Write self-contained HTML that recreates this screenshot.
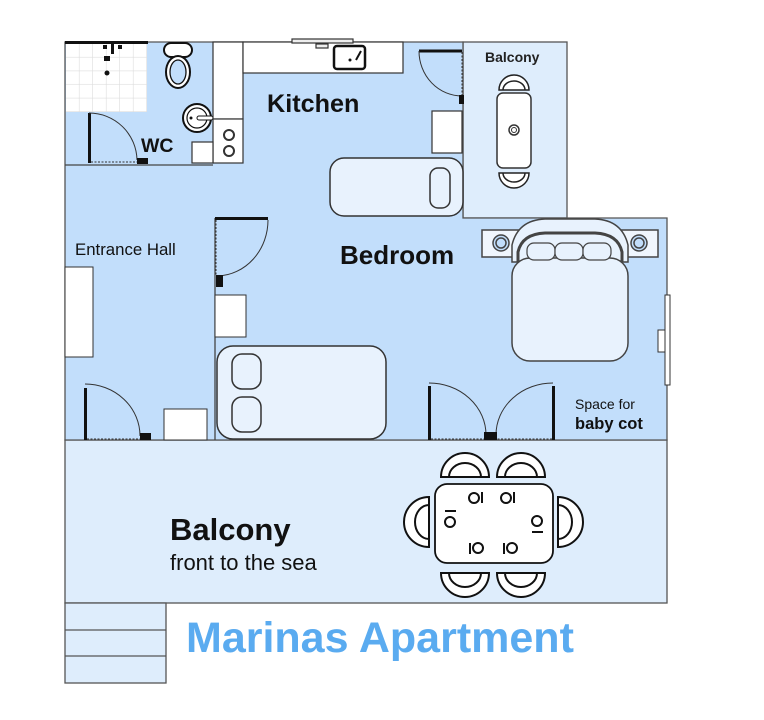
<!DOCTYPE html>
<html><head><meta charset="utf-8"><style>
html,body{margin:0;padding:0;background:#fff;width:764px;height:720px;overflow:hidden}
svg{display:block}
text{font-family:"Liberation Sans",Arial,sans-serif}
</style></head><body>
<svg width="764" height="720" viewBox="0 0 764 720" xmlns="http://www.w3.org/2000/svg">
<defs>
<pattern id="tile" x="66" y="44" width="13.5" height="13.6" patternUnits="userSpaceOnUse">
<rect width="13.5" height="13.6" fill="#fff"/>
<path d="M13.5 0V13.6M0 13.6H13.5" stroke="#ddd" stroke-width="1.2"/>
</pattern>
</defs>
<g stroke="#555" stroke-width="1.3">
<rect x="463" y="42" width="104" height="176" fill="#deedfc"/>
<rect x="65" y="440" width="602" height="163" fill="#deedfc"/>
<rect x="65" y="603" width="101" height="80" fill="#deedfc"/>
<line x1="65" y1="630" x2="166" y2="630"/>
<line x1="65" y1="656" x2="166" y2="656"/>
<path d="M65 42H463V218H667V440H65Z" fill="#c2defb"/>
<line x1="65" y1="165" x2="213" y2="165" stroke="#444"/>
<line x1="215" y1="218" x2="215" y2="440" stroke="#444"/>
</g>
<rect x="66" y="44" width="81" height="68" fill="url(#tile)"/>
<rect x="65" y="41" width="83" height="3" fill="#111"/>
<rect x="111" y="44" width="3" height="10" fill="#111"/>
<rect x="103" y="45" width="4" height="4" fill="#111"/><rect x="118" y="45" width="4" height="4" fill="#111"/>
<rect x="104" y="56" width="6" height="5" fill="#111"/><circle cx="107" cy="73" r="2.5" fill="#111"/>
<g fill="#fff" stroke="#111" stroke-width="2">
<rect x="164" y="43" width="28" height="14" rx="7"/>
<ellipse cx="178" cy="72" rx="12" ry="16"/>
<ellipse cx="178" cy="72" rx="8" ry="12" fill="#c2defb" stroke-width="1.3"/>
<circle cx="197" cy="118" r="14"/>
<circle cx="197" cy="118" r="10" stroke-width="1.2"/>
</g>
<rect x="197" y="116" width="16" height="4" rx="2" fill="#fff" stroke="#111"/>
<circle cx="191" cy="118" r="1.5" fill="#111"/>
<rect x="88" y="113" width="3" height="50" fill="#111"/>
<path d="M89 113A48 48 0 0 1 137 160" fill="none" stroke="#333"/>
<line x1="91" y1="162" x2="137" y2="162" stroke="#333" stroke-dasharray="2,1.5"/>
<rect x="137" y="158" width="11" height="6" fill="#111"/>
<g fill="#fff" stroke="#333" stroke-width="1.2">
<rect x="213" y="42" width="30" height="77"/>
<rect x="213" y="119" width="30" height="44"/>
<rect x="192" y="142" width="21" height="21"/>
<rect x="243" y="42" width="160" height="31"/>
<rect x="292" y="39" width="61" height="4" fill="#eee"/>
<rect x="316" y="44" width="12" height="4" fill="#eee"/>
<circle cx="229" cy="135" r="5" stroke-width="2"/><circle cx="229" cy="151" r="5" stroke-width="2"/>
<rect x="334" y="46" width="31" height="23" rx="3" stroke="#111" stroke-width="2.5"/>
<rect x="432" y="111" width="30" height="42"/>
</g>
<circle cx="350" cy="60" r="1.5" fill="#111"/><line x1="356" y1="60" x2="361" y2="51" stroke="#111" stroke-width="2"/>
<line x1="419" y1="51" x2="462" y2="51" stroke="#111" stroke-width="3"/>
<path d="M419 51A43 45 0 0 0 462 96" fill="none" stroke="#333"/>
<line x1="462" y1="52" x2="462" y2="96" stroke="#333" stroke-dasharray="2,1.5"/>
<rect x="459" y="95" width="5" height="9" fill="#111"/>
<rect x="330" y="158" width="133" height="58" rx="14" fill="#e8f2fd" stroke="#333" stroke-width="1.5"/>
<rect x="430" y="168" width="20" height="40" rx="8" fill="#e8f2fd" stroke="#333" stroke-width="1.5"/>
<rect x="497" y="93" width="34" height="75" rx="6" fill="#fff" stroke="#333" stroke-width="1.5"/>
<circle cx="514" cy="130" r="5" fill="#fff" stroke="#333" stroke-width="1.5"/><circle cx="514" cy="130" r="2.5" fill="none" stroke="#333"/>
<g fill="#fff" stroke="#222" stroke-width="1.5">
<path d="M499 90A15 15 0 0 1 529 90Z"/><path d="M503 90A11 9 0 0 1 525 90" fill="none"/>
<path d="M499 173A15 15 0 0 0 529 173Z"/><path d="M503 173A11 9 0 0 0 525 173" fill="none"/>
</g>
<rect x="215" y="217" width="53" height="3" fill="#111"/>
<path d="M268 220A52 56 0 0 1 218 276" fill="none" stroke="#333"/>
<line x1="216" y1="220" x2="216" y2="276" stroke="#333" stroke-dasharray="2,1.5"/>
<rect x="216" y="275" width="7" height="12" fill="#111"/>
<rect x="215" y="295" width="31" height="42" fill="#fff" stroke="#333"/>
<rect x="217" y="346" width="169" height="93" rx="16" fill="#e8f2fd" stroke="#333" stroke-width="1.5"/>
<rect x="232" y="354" width="29" height="35" rx="10" fill="#e8f2fd" stroke="#333" stroke-width="1.5"/>
<rect x="232" y="397" width="29" height="35" rx="10" fill="#e8f2fd" stroke="#333" stroke-width="1.5"/>
<g stroke="#444" stroke-width="1.5">
<rect x="482" y="230" width="38" height="27" fill="#f0f6fd"/>
<rect x="620" y="230" width="38" height="27" fill="#f0f6fd"/>
<path d="M512 262V245Q518 220 545 219H595Q622 220 628 245V262Z" fill="#e8f2fd"/>
<path d="M518 262V252Q522 234 545 233H595Q618 234 622 252V262" fill="none" stroke-width="3"/>
<rect x="512" y="258" width="116" height="103" rx="18" fill="#e8f2fd"/>
<rect x="527" y="243" width="28" height="17" rx="7" fill="#e8f2fd" stroke-width="1.2"/>
<rect x="555" y="243" width="28" height="17" rx="7" fill="#e8f2fd" stroke-width="1.2"/>
<rect x="583" y="243" width="28" height="17" rx="7" fill="#e8f2fd" stroke-width="1.2"/>
<circle cx="501" cy="243" r="8" fill="#c2defb"/><circle cx="501" cy="243" r="5" fill="none"/>
<circle cx="639" cy="243" r="8" fill="#c2defb"/><circle cx="639" cy="243" r="5" fill="none"/>
</g>
<rect x="665" y="295" width="5" height="90" fill="#fff" stroke="#333"/>
<rect x="658" y="330" width="7" height="22" fill="#fff" stroke="#333"/>
<rect x="428" y="386" width="3" height="54" fill="#111"/>
<rect x="552" y="386" width="3" height="54" fill="#111"/>
<path d="M429 383A57 52 0 0 1 486 435" fill="none" stroke="#333"/>
<path d="M553 383A57 52 0 0 0 496 435" fill="none" stroke="#333"/>
<line x1="431" y1="439" x2="552" y2="439" stroke="#333" stroke-dasharray="2,1.5"/>
<rect x="484" y="432" width="13" height="8" fill="#111"/>
<rect x="65" y="267" width="28" height="90" fill="#fff" stroke="#333"/>
<rect x="84" y="388" width="3" height="52" fill="#111"/>
<path d="M85 384A55 52 0 0 1 140 436" fill="none" stroke="#333"/>
<line x1="87" y1="439" x2="140" y2="439" stroke="#333" stroke-dasharray="2,1.5"/>
<rect x="140" y="433" width="11" height="7" fill="#111"/>
<rect x="164" y="409" width="43" height="31" fill="#fff" stroke="#333"/>
<rect x="435" y="484" width="118" height="79" rx="12" fill="#fff" stroke="#111" stroke-width="1.8"/>
<g fill="#fff" stroke="#111" stroke-width="2">
<path d="M441 477A24 24 0 0 1 489 477Z"/><path d="M449 477A16 14 0 0 1 481 477" fill="none"/>
<path d="M497 477A24 24 0 0 1 545 477Z"/><path d="M505 477A16 14 0 0 1 537 477" fill="none"/>
<path d="M441 573A24 24 0 0 0 489 573Z"/><path d="M449 573A16 14 0 0 0 481 573" fill="none"/>
<path d="M497 573A24 24 0 0 0 545 573Z"/><path d="M505 573A16 14 0 0 0 537 573" fill="none"/>
<path d="M429 497A25 25 0 0 0 429 547Z"/><path d="M429 505A14 17 0 0 0 429 539" fill="none"/>
<path d="M558 497A25 25 0 0 1 558 547Z"/><path d="M558 505A14 17 0 0 1 558 539" fill="none"/>
<circle cx="474" cy="498" r="5"/><circle cx="506" cy="498" r="5"/>
<circle cx="478" cy="548" r="5"/><circle cx="512" cy="548" r="5"/>
<circle cx="450" cy="522" r="5"/><circle cx="537" cy="521" r="5"/>
</g>
<g fill="#111">
<rect x="481" y="492" width="2" height="11"/><rect x="513" y="492" width="2" height="11"/>
<rect x="469" y="543" width="2" height="11"/><rect x="503" y="543" width="2" height="11"/>
<rect x="445" y="510" width="11" height="2"/><rect x="532" y="531" width="11" height="2"/>
</g>
<text x="267" y="112" font-size="25.2" font-weight="bold" fill="#111">Kitchen</text>
<text x="141" y="152" font-size="19.5" font-weight="bold" fill="#111">WC</text>
<text x="485" y="62" font-size="14" font-weight="bold" fill="#222">Balcony</text>
<text x="75" y="255" font-size="16.8" fill="#111">Entrance Hall</text>
<text x="340" y="264" font-size="26" font-weight="bold" fill="#111">Bedroom</text>
<text x="575" y="409" font-size="14" fill="#111">Space for</text>
<text x="575" y="429" font-size="16.5" font-weight="bold" fill="#111">baby cot</text>
<text x="170" y="540" font-size="31" font-weight="bold" fill="#111">Balcony</text>
<text x="170" y="570" font-size="22" fill="#111">front to the sea</text>
<text x="186" y="652" font-size="43" font-weight="bold" fill="#5aabf0">Marinas Apartment</text>
</svg>
</body></html>
